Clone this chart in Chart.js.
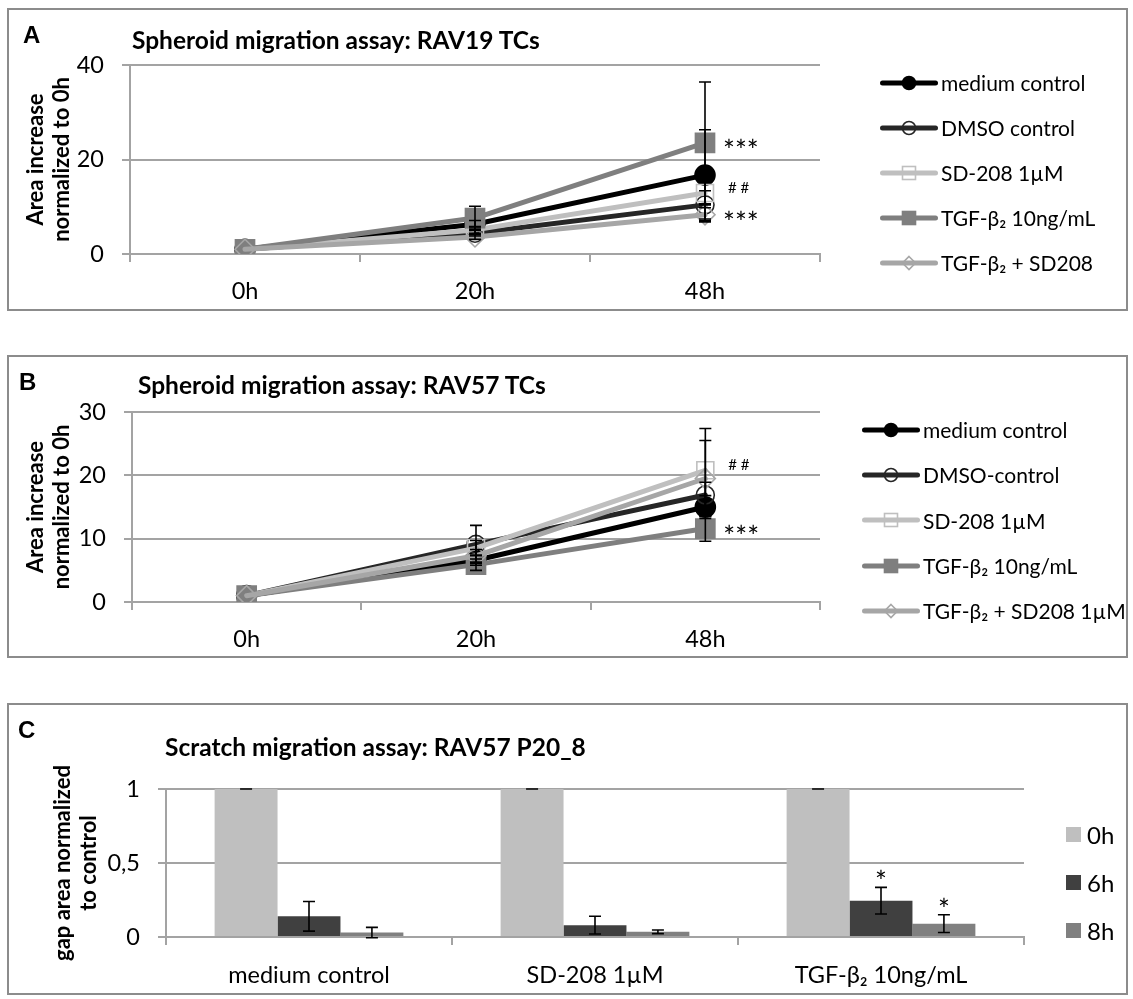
<!DOCTYPE html>
<html>
<head>
<meta charset="utf-8">
<title>Migration assays</title>
<script src="https://cdn.jsdelivr.net/npm/chart.js@4.4.1/dist/chart.umd.min.js"></script>
<style>
  html, body { margin: 0; padding: 0; background: #fff; }
  body { position: relative; width: 1133px; height: 999px; overflow: hidden; font-family: Lato, 'Open Sans', sans-serif; color: #000; }
  .panel { position: absolute; left: 7px; width: 1121px; border: 2px solid #8c8c8c; box-sizing: border-box; }
  canvas { position: absolute; left: 0; }
  .letter { position: absolute; font: bold 24px 'Liberation Sans', Arial, sans-serif; line-height: 28px; }
  .title { position: absolute; font-weight: bold; font-size: 24.5px; line-height: 28px; white-space: nowrap; }
  .legend { position: absolute; }
  .legend .row { display: flex; align-items: center; white-space: nowrap; font-size: 21px; }
  .legend svg { display: block; margin-right: 3px; }
  .legend .swatch { width: 15px; height: 15px; margin-right: 6px; }
  #legendC .row { font-size: 24px; }
</style>
</head>
<body>
<div class="panel" style="top:8px;height:303px"></div>
<div class="panel" style="top:355px;height:303px"></div>
<div class="panel" style="top:703px;height:292px"></div>

<canvas id="chartA" width="1133" height="330" style="top:0"></canvas>
<canvas id="chartB" width="1133" height="330" style="top:330px"></canvas>
<canvas id="chartC" width="1133" height="339" style="top:660px"></canvas>

<div class="letter" style="left:23px;top:21px">A</div>
<div class="title" style="left:132px;top:26px">Spheroid migration assay: RAV19 TCs</div>
<div class="letter" style="left:19px;top:368px">B</div>
<div class="title" style="left:138px;top:371px">Spheroid migration assay: RAV57 TCs</div>
<div class="letter" style="left:18px;top:716px">C</div>
<div class="title" style="left:165px;top:733px">Scratch migration assay: RAV57 P20_8</div>

<div class="legend" id="legendA" style="left:880px;top:60px"></div>
<div class="legend" id="legendB" style="left:862px;top:407px"></div>
<div class="legend" id="legendC" style="left:1066px;top:810px"></div>

<script>
// time points and treatments for the spheroid assays
const timePoints = ['0h', '20h', '48h'];

// RAV19 TCs
const seriesNamesA = ['medium control', 'DMSO control', 'SD-208 1µM', 'TGF-β₂ 10ng/mL', 'TGF-β₂ + SD208'];
const mediumA = [1, 6.3, 16.7];
const dmsoA = [1, 4.4, 10.4];
const sd208A = [1, 5.1, 12.9];
const tgfA = [1, 7.6, 23.5];
const tgfSdA = [1, 3.6, 8.3];
const mediumErrA = [0, 0.8, 9.6];
const dmsoErrA = [0, 0.6, 3.0];
const sd208ErrA = [0, 0.7, 2.5];
const tgfErrA = [0, 2.5, 12.9];
const tgfSdErrA = [0, 0.5, 1.5];
const yTicksA = [0, 20, 40];
const marksA = [[3, 2, '***'], [2, 2, '# #'], [4, 2, '***']];

// RAV57 TCs
const seriesNamesB = ['medium control', 'DMSO-control', 'SD-208 1µM', 'TGF-β₂ 10ng/mL', 'TGF-β₂ + SD208 1µM'];
const mediumB = [1, 6.6, 15.0];
const dmsoB = [1, 9.1, 16.9];
const sd208B = [1, 8.5, 20.8];
const tgfB = [1, 5.9, 11.6];
const tgfSdB = [1, 7.3, 19.5];
const mediumErrB = [0, 0.8, 1.8];
const dmsoErrB = [0, 3.0, 2.0];
const sd208ErrB = [0, 1.2, 6.6];
const tgfErrB = [0, 0.9, 2.0];
const tgfSdErrB = [0, 1.0, 6.0];
const yTicksB = [0, 10, 20, 30];
const marksB = [[2, 2, '# #'], [3, 2, '***']];

// scratch assay, RAV57 P20_8
const groupsC = ['medium control', 'SD-208 1µM', 'TGF-β₂ 10ng/mL'];
const timesC = ['0h', '6h', '8h'];
const gap0h = [1, 1, 1];
const gap6h = [0.14, 0.08, 0.245];
const gap8h = [0.03, 0.035, 0.09];
const err0h = [0, 0, 0];
const err6h = [0.10, 0.06, 0.09];
const err8h = [0.035, 0.012, 0.06];
const yTickValuesC = [0, 0.5, 1];
const yTickTextC = ['0', '0,5', '1'];
const marksC = [[1, 2, '*'], [2, 2, '*']];

const lineStyles = [
  { color: '#000000', point: 'circle', radius: 10, fill: '#000000', edge: '#000000' },
  { color: '#262626', point: 'circle', radius: 9, fill: 'rgba(255,255,255,0)', edge: '#262626' },
  { color: '#bfbfbf', point: 'rect', radius: 12, fill: 'rgba(255,255,255,0)', edge: '#bfbfbf' },
  { color: '#7f7f7f', point: 'rect', radius: 13.5, fill: '#7f7f7f', edge: '#7f7f7f' },
  { color: '#a6a6a6', point: 'rectRot', radius: 10, fill: 'rgba(255,255,255,0)', edge: '#a6a6a6' }
];
const barColors = ['#bfbfbf', '#404040', '#808080'];
const gridColor = '#a3a3a3';
const tickFont = { family: 'Lato', size: 23.5 };
const axisTitleFont = { family: 'Lato', size: 22, weight: 'bold', lineHeight: 1.18 };

// error bars: vertical whisker with caps, drawn over the marks
const errorBars = {
  id: 'errorBars',
  afterDatasetsDraw(chart, args, opts) {
    const ctx = chart.ctx, y = chart.scales.y;
    ctx.save();
    ctx.strokeStyle = '#000';
    ctx.lineWidth = 1.6;
    chart.data.datasets.forEach((ds, di) => {
      const meta = chart.getDatasetMeta(di);
      ds.errors.forEach((e, i) => {
        if (!e && !opts.showZero) return;
        const x = meta.data[i].x;
        const top = y.getPixelForValue(ds.data[i] + e);
        const bot = y.getPixelForValue(ds.data[i] - e);
        const w = opts.cap || 6;
        ctx.beginPath();
        ctx.moveTo(x, top); ctx.lineTo(x, bot);
        ctx.moveTo(x - w, top); ctx.lineTo(x + w, top);
        ctx.moveTo(x - w, bot); ctx.lineTo(x + w, bot);
        ctx.stroke();
      });
    });
    ctx.restore();
  }
};

// significance marks next to (or above) a point
const sigMarks = {
  id: 'sigMarks',
  afterDatasetsDraw(chart, args, opts) {
    if (!opts.marks) return;
    const ctx = chart.ctx, y = chart.scales.y;
    ctx.save();
    ctx.fillStyle = '#000';
    ctx.textBaseline = 'middle';
    opts.marks.forEach(([di, i, text]) => {
      const ds = chart.data.datasets[di];
      const pt = chart.getDatasetMeta(di).data[i];
      const hash = text.indexOf('#') >= 0;
      ctx.font = hash ? '15px Lato' : '28px Lato';
      if (opts.above) {
        ctx.textAlign = 'center';
        ctx.fillText(text, pt.x, y.getPixelForValue(ds.data[i] + ds.errors[i]) - 4);
      } else {
        ctx.textAlign = 'left';
        ctx.fillText(text, pt.x + (hash ? 23 : 18), pt.y + (hash ? -5 : 9));
      }
    });
    ctx.restore();
  }
};

function lineChart(id, names, values, errors, yTicks, marks, area, yTitle) {
  return new Chart(document.getElementById(id), {
    type: 'line',
    data: {
      labels: timePoints,
      datasets: names.map((name, i) => ({
        label: name,
        data: values[i],
        errors: errors[i],
        order: names.length - i,
        borderColor: lineStyles[i].color,
        borderWidth: 5,
        borderCapStyle: 'round',
        borderJoinStyle: 'round',
        tension: 0,
        fill: false,
        pointStyle: lineStyles[i].point,
        pointRadius: lineStyles[i].radius,
        pointBackgroundColor: lineStyles[i].fill,
        pointBorderColor: lineStyles[i].edge,
        pointBorderWidth: 1.6
      }))
    },
    options: {
      responsive: false,
      animation: false,
      devicePixelRatio: 1,
      layout: { padding: area.padding },
      plugins: {
        legend: { display: false },
        tooltip: { enabled: false },
        sigMarks: { marks: marks },
        errorBars: { cap: 6 }
      },
      scales: {
        x: {
          offset: true,
          grid: { offset: true, drawOnChartArea: false, tickLength: 8, color: gridColor, lineWidth: 2 },
          border: { color: gridColor, width: 2 },
          ticks: { font: tickFont, color: '#000', padding: 15, maxRotation: 0 },
          afterFit: s => { s.height = 50; }
        },
        y: {
          min: 0,
          max: yTicks[yTicks.length - 1],
          afterBuildTicks: s => { s.ticks = yTicks.map(v => ({ value: v })); },
          grid: { color: gridColor, lineWidth: 2, tickLength: 8 },
          border: { color: gridColor, width: 2 },
          ticks: { font: tickFont, color: '#000', padding: 18 },
          title: { display: true, text: yTitle, font: axisTitleFont, color: '#000', padding: { top: 23, bottom: 0 } },
          afterFit: s => { s.width = area.axisWidth; }
        }
      }
    },
    plugins: [errorBars, sigMarks]
  });
}

lineChart('chartA', seriesNamesA,
  [mediumA, dmsoA, sd208A, tgfA, tgfSdA],
  [mediumErrA, dmsoErrA, sd208ErrA, tgfErrA, tgfSdErrA],
  yTicksA, marksA,
  { axisWidth: 130, padding: { top: 65, right: 313, bottom: 26, left: 0 } },
  ['Area increase', 'normalized to 0h']);

lineChart('chartB', seriesNamesB,
  [mediumB, dmsoB, sd208B, tgfB, tgfSdB],
  [mediumErrB, dmsoErrB, sd208ErrB, tgfErrB, tgfSdErrB],
  yTicksB, marksB,
  { axisWidth: 132, padding: { top: 82, right: 313, bottom: 8, left: 0 } },
  ['Area increase', 'normalized to 0h']);

new Chart(document.getElementById('chartC'), {
  type: 'bar',
  data: {
    labels: groupsC,
    datasets: [gap0h, gap6h, gap8h].map((vals, i) => ({
      label: timesC[i],
      data: vals,
      errors: [err0h, err6h, err8h][i],
      backgroundColor: barColors[i],
      borderWidth: 0,
      categoryPercentage: 0.66,
      barPercentage: 1
    }))
  },
  options: {
    responsive: false,
    animation: false,
    devicePixelRatio: 1,
    layout: { padding: { top: 129, right: 109, bottom: 12, left: 0 } },
    plugins: {
      legend: { display: false },
      tooltip: { enabled: false },
      errorBars: { cap: 6, showZero: true },
      sigMarks: { marks: marksC, above: true }
    },
    scales: {
      x: {
        grid: { offset: true, drawOnChartArea: false, tickLength: 8, color: gridColor, lineWidth: 2 },
        border: { color: gridColor, width: 2 },
        ticks: { font: tickFont, color: '#000', padding: 16, maxRotation: 0 },
        afterFit: s => { s.height = 50; }
      },
      y: {
        min: 0,
        max: 1,
        afterBuildTicks: s => { s.ticks = yTickValuesC.map(v => ({ value: v })); },
        grid: { color: gridColor, lineWidth: 2, tickLength: 8 },
        border: { color: gridColor, width: 2 },
        ticks: { font: tickFont, color: '#000', padding: 18, callback: v => yTickTextC[yTickValuesC.indexOf(v)] },
        title: { display: true, text: ['gap area normalized', 'to control'], font: axisTitleFont, color: '#000', padding: { top: 50, bottom: 0 } },
        afterFit: s => { s.width = 166; }
      }
    }
  },
  plugins: [errorBars, sigMarks]
});

// legends: line-and-marker samples for the spheroid charts, swatches for the scratch chart
function lineSymbol(s) {
  const cx = 29, cy = 13;
  let mark = '';
  if (s.point === 'circle') {
    mark = `<circle cx="${cx}" cy="${cy}" r="6.5" fill="${s.fill}" stroke="${s.edge}" stroke-width="1.6"/>`;
  } else if (s.point === 'rect') {
    mark = `<rect x="${cx - 6.5}" y="${cy - 6.5}" width="13" height="13" fill="${s.fill}" stroke="${s.edge}" stroke-width="1.6"/>`;
  } else {
    mark = `<polygon points="${cx},${cy - 6.5} ${cx + 6.5},${cy} ${cx},${cy + 6.5} ${cx - 6.5},${cy}" fill="${s.fill}" stroke="${s.edge}" stroke-width="1.6"/>`;
  }
  return `<svg width="58" height="26"><line x1="2.5" y1="${cy}" x2="55.5" y2="${cy}" stroke="${s.color}" stroke-width="5" stroke-linecap="round"/>${mark}</svg>`;
}

function lineLegend(id, names, rowHeight) {
  const el = document.getElementById(id);
  names.forEach((name, i) => {
    const row = document.createElement('div');
    row.className = 'row';
    row.style.height = rowHeight + 'px';
    row.innerHTML = lineSymbol(lineStyles[i]) + '<span>' + name + '</span>';
    el.appendChild(row);
  });
}
lineLegend('legendA', seriesNamesA, 45);
lineLegend('legendB', seriesNamesB, 45.3);

const legendC = document.getElementById('legendC');
timesC.forEach((name, i) => {
  const row = document.createElement('div');
  row.className = 'row';
  row.style.height = '48px';
  row.innerHTML = `<div class="swatch" style="background:${barColors[i]}"></div><span>${name}</span>`;
  legendC.appendChild(row);
});
</script>
</body>
</html>
